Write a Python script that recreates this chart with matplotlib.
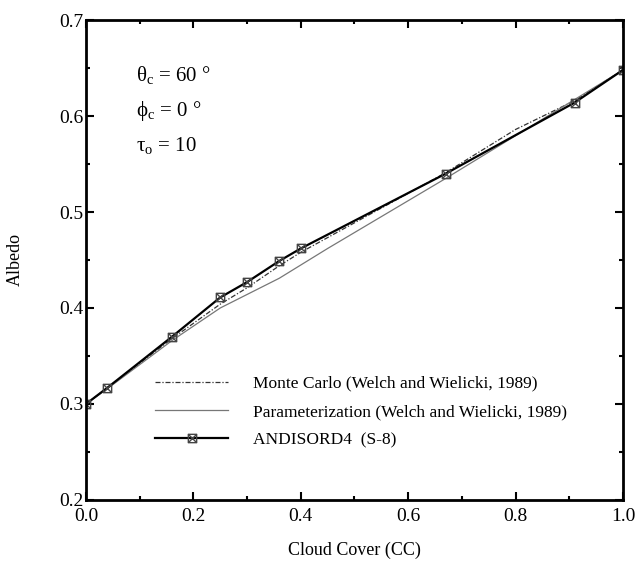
import matplotlib
matplotlib.use('Agg')
import matplotlib.pyplot as plt
from matplotlib.path import Path
from matplotlib.ticker import MultipleLocator

plt.rcParams['font.family'] = ['Liberation Serif', 'DejaVu Serif']
plt.rcParams['mathtext.fontset'] = 'custom'
plt.rcParams['mathtext.rm'] = 'Liberation Serif'
plt.rcParams['mathtext.it'] = 'Liberation Serif:italic'

# values
cc_andi = [0.0, 0.04, 0.16, 0.25, 0.30, 0.36, 0.40, 0.67, 0.91, 1.0]
alb_andi = [0.300, 0.317, 0.370, 0.411, 0.427, 0.449, 0.462, 0.540, 0.614, 0.648]

cc_mc = [0.0, 0.04, 0.16, 0.25, 0.30, 0.36, 0.40, 0.67, 0.80, 0.91, 1.0]
alb_mc = [0.300, 0.317, 0.368, 0.404, 0.421, 0.444, 0.458, 0.541, 0.586, 0.616, 0.648]

cc_par = [0.0, 0.04, 0.16, 0.25, 0.36, 0.45, 0.67, 1.0]
alb_par = [0.300, 0.316, 0.366, 0.400, 0.431, 0.462, 0.535, 0.648]

labels = ['Monte Carlo (Welch and Wielicki, 1989)',
          'Parameterization (Welch and Wielicki, 1989)',
          'ANDISORD4  (S-8)']

# square with an x inside
box_x = Path([(-1, -1), (1, -1), (1, 1), (-1, 1), (-1, -1),
              (-1, -1), (1, 1), (-1, 1), (1, -1)],
             [Path.MOVETO, Path.LINETO, Path.LINETO, Path.LINETO, Path.CLOSEPOLY,
              Path.MOVETO, Path.LINETO, Path.MOVETO, Path.LINETO])

fig = plt.figure(figsize=(6.35, 5.67), dpi=100)
ax = fig.add_axes([0.1354, 0.1182, 0.8457, 0.8465])

ax.plot(cc_mc, alb_mc, color='#333333', lw=0.9, ls=(0, (4, 1.5, 1, 1.5)), label=labels[0])
ax.plot(cc_par, alb_par, color='#777777', lw=0.9, ls='-', label=labels[1])
ax.plot(cc_andi, alb_andi, color='black', lw=1.6, marker=box_x, ms=6,
        mfc='none', mec='#444444', mew=1.0, label=labels[2])

ax.set_xlim(0, 1.0)
ax.set_ylim(0.2, 0.7)
ax.xaxis.set_major_locator(MultipleLocator(0.2))
ax.xaxis.set_minor_locator(MultipleLocator(0.1))
ax.yaxis.set_major_locator(MultipleLocator(0.1))
ax.yaxis.set_minor_locator(MultipleLocator(0.05))
ax.xaxis.set_major_formatter(plt.FormatStrFormatter('%.1f'))
ax.yaxis.set_major_formatter(plt.FormatStrFormatter('%.1f'))
ax.tick_params(which='both', direction='in', top=True, right=True, width=1.5,
               labelsize=14)
ax.tick_params(which='major', length=6)
ax.tick_params(which='minor', length=3)
ax.tick_params(axis='x', pad=6)
ax.tick_params(axis='y', pad=2)
for sp in ax.spines.values():
    sp.set_linewidth(2)

ax.set_xlabel('Cloud Cover (CC)', fontsize=13, labelpad=12)
ax.set_ylabel('Albedo', fontsize=13, labelpad=25)

ax.text(0.093, 0.636, r'θ$_{\rm c}$ = 60 °', fontsize=15)
ax.text(0.093, 0.600, r'ϕ$_{\rm c}$ = 0 °', fontsize=15)
ax.text(0.093, 0.564, r'τ$_{\rm o}$ = 10', fontsize=15)

ax.legend(loc='lower left', bbox_to_anchor=(0.1, 0.075), frameon=False,
          fontsize=12.5, handlelength=4.2, handletextpad=1.4, labelspacing=0.7)

fig.savefig('out.png', dpi=100)
